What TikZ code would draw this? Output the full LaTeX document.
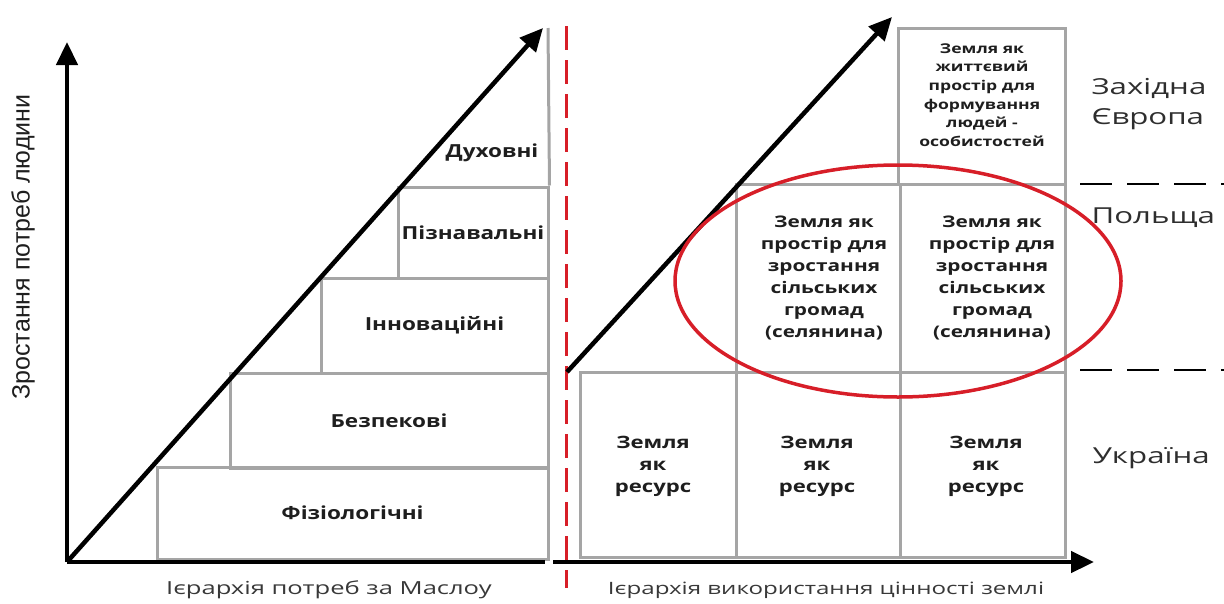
\documentclass[tikz,border=0pt]{standalone}
\usepackage{fontspec}
\setmainfont{Open Sans}
\newfontfamily\labelfont{Liberation Sans}
\newfontfamily\fA[FakeStretch=1.25]{Open Sans}
\newfontfamily\fB[FakeStretch=1.3]{Open Sans}
\newfontfamily\fC[FakeStretch=1.42]{Open Sans}
\usetikzlibrary{arrows.meta,shapes.geometric}
\definecolor{boxgray}{RGB}{165,165,165}
\definecolor{lineRed}{RGB}{215,30,40}
\definecolor{txt}{RGB}{30,30,30}
\tikzset{
  axis/.style={line width=4.5pt, black},
  arr/.style={axis, -{Triangle[length=23pt,width=21pt]}},
  gframe/.style={draw=boxgray, line width=3pt, inner sep=0pt},
  gbox/.style={gframe, font=\fA\bfseries\fontsize{18}{22}\selectfont, text=txt, align=center},
  rtext/.style={font=\fB\bfseries\fontsize{16}{22}\selectfont, text=txt, align=center},
  btext/.style={font=\fB\bfseries\fontsize{17}{22}\selectfont, text=txt, align=center},
  ttext/.style={font=\fB\bfseries\fontsize{13.5}{18.6}\selectfont, text=txt, align=center},
  lbl/.style={font=\fC\fontsize{18}{22}\selectfont, text=black!78},
  country/.style={font=\fC\fontsize{22}{30}\selectfont, align=left, anchor=west, text=black!82},
  sep/.style={black, line width=2.5pt, dash pattern=on 32pt off 15pt},
}
\begin{document}
\begin{tikzpicture}[x=1pt,y=-1pt]
\useasboundingbox (0,0) rectangle (1224,603);
% ---------- left panel ----------
\coordinate (O) at (67,562);
\coordinate (ytip) at (67,42);
\coordinate (xl) at (545,562);
\coordinate (dtip) at (543,28);
% boxes
\node[gbox, minimum width=391pt, minimum height=92pt] (fiz) at (352.5,513) {Фізіологічні};
\node[gbox, minimum width=318pt, minimum height=95pt] (bez) at (389,420.5) {Безпекові};
\node[gbox, minimum width=227pt, minimum height=95pt] (inn) at (434.5,325.5) {Інноваційні};
\node[gbox, minimum width=150pt, minimum height=91pt] (piz) at (473,232.5) {Пізнавальні};
\node[font=\fA\bfseries\fontsize{18}{22}\selectfont, text=txt] (duh) at (492,153) {Духовні};
\coordinate (gt) at (548,28);
\draw[boxgray, line width=3pt] (gt) -- (piz.north east);
% axes
\draw[arr] (O) -- (ytip);
\draw[axis] (O) -- (xl);
\draw[arr] (O) -- (dtip);
\node[font=\labelfont\fontsize{25}{28}\selectfont, rotate=90, text=txt] (ylab) at (23,247) {Зростання потреб людини};
\node[lbl] (lab1) at (329,590) {Ієрархія потреб за Маслоу};
% red dashed divider
\coordinate (r1) at (566,26);
\coordinate (r2) at (566,588);
\draw[lineRed, line width=3pt, dash pattern=on 24pt off 10pt] (r1) -- (r2);
% ---------- right panel ----------
\node[gframe, minimum width=156pt, minimum height=185pt] (b1) at (658,464.5) {};
\node[gframe, minimum width=164pt, minimum height=185pt] (b2) at (818,464.5) {};
\node[gframe, minimum width=165pt, minimum height=185pt] (b3) at (982.5,464.5) {};
\node[gframe, minimum width=164pt, minimum height=188pt] (m1) at (818,278) {};
\node[gframe, minimum width=165pt, minimum height=188pt] (m2) at (982.5,278) {};
\node[gframe, minimum width=167pt, minimum height=156pt] (t1) at (981.5,106) {};
\node[btext] (b1t) at (653,466) {Земля\\як\\ресурс};
\node[btext] (b2t) at (817,466) {Земля\\як\\ресурс};
\node[btext] (b3t) at (986,466) {Земля\\як\\ресурс};
\node[rtext] (m1t) at (824,278) {Земля як\\простір для\\зростання\\сільських\\громад\\(селянина)};
\node[rtext] (m2t) at (992,278) {Земля як\\простір для\\зростання\\сільських\\громад\\(селянина)};
\node[ttext] (t1t) at (982,95) {Земля як\\життєвий\\простір для\\формування\\людей -\\особистостей};
\coordinate (s1) at (567,372);
\coordinate (s2) at (892,17);
\draw[arr] (s1) -- (s2);
\coordinate (xr0) at (553,562);
\coordinate (xr1) at (1094,562);
\draw[arr] (xr0) -- (xr1);
\node[lbl, font=\fC\fontsize{17}{22}\selectfont] (lab2) at (826,590) {Ієрархія використання цінності землі};
% ellipse
\node[draw=lineRed, line width=3.5pt, ellipse, minimum width=446pt, minimum height=232pt, inner sep=0pt] (ell) at (898,281) {};
% country labels
\node[country] (we) at (1088,104) {Західна\\Європа};
\node[country] (pl) at (1088,218) {Польща};
\node[country] (ua) at (1089,458) {Україна};
\coordinate (d1a) at (1080,184);
\coordinate (d1b) at (1224,184);
\coordinate (d2a) at (1080,370);
\coordinate (d2b) at (1224,370);
\draw[sep] (d1a) -- (d1b);
\draw[sep] (d2a) -- (d2b);
\end{tikzpicture}
\end{document}
